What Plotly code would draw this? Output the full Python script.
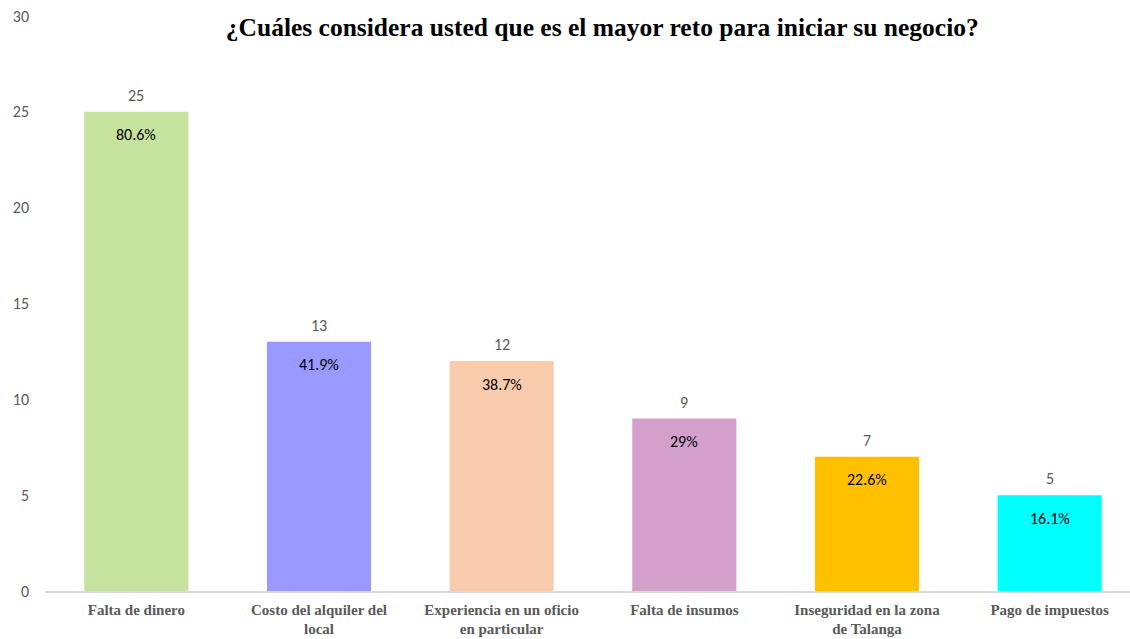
import plotly.graph_objects as go

categories = [
    "Falta de dinero",
    "Costo del alquiler del<br>local",
    "Experiencia en un oficio<br>en particular",
    "Falta de insumos",
    "Inseguridad en la zona<br>de Talanga",
    "Pago de impuestos",
]
counts = [25, 13, 12, 9, 7, 5]
percents = ["80.6%", "41.9%", "38.7%", "29%", "22.6%", "16.1%"]
bar_colors = ["#C5E29F", "#9999FF", "#F8CBAD", "#D39FCB", "#FFC000", "#00FFFF"]
y_ticks = [0, 5, 10, 15, 20, 25, 30]

SANS = "Carlito, Lato, Open Sans, sans-serif"
SERIF = "Liberation Serif, Times New Roman, serif"

fig = go.Figure()
fig.add_trace(go.Bar(
    x=categories,
    y=counts,
    marker=dict(color=bar_colors, line=dict(width=0)),
    hoverinfo="skip",
))

# count labels above bars, percentages just inside the top
for cat, n, pct in zip(categories, counts, percents):
    fig.add_annotation(x=cat, y=n, text=str(n), showarrow=False,
                       yanchor="bottom", yshift=5,
                       font=dict(family=SANS, size=16, color="#595959"))
    fig.add_annotation(x=cat, y=n, text=pct, showarrow=False,
                       yanchor="middle", yshift=-23,
                       font=dict(family=SANS, size=16, color="#000000"))

fig.update_layout(
    width=1130,
    height=639,
    paper_bgcolor="white",
    plot_bgcolor="white",
    showlegend=False,
    bargap=0.43,
    margin=dict(l=45, r=0, t=16, b=48),
    title=dict(
        text="¿Cuáles considera usted que es el mayor reto para iniciar su negocio?",
        x=0.533, xanchor="center", y=0.958, yanchor="middle",
        font=dict(family=SERIF, size=25.5, color="#000000", weight="bold"),
    ),
    xaxis=dict(
        range=[-0.5, 5.44],
        automargin=False,
        showgrid=False,
        showline=True,
        linecolor="#D9D9D9",
        linewidth=1.5,
        ticks="",
        ticklabelstandoff=4,
        tickfont=dict(family=SERIF, size=15, color="#595959", weight="bold"),
    ),
    yaxis=dict(
        range=[0, 30],
        automargin=False,
        tickvals=y_ticks,
        showgrid=False,
        zeroline=False,
        showline=False,
        ticks="",
        ticklabelstandoff=15,
        tickfont=dict(family=SANS, size=16, color="#595959"),
    ),
)

# drop the default 8px body margin so the figure fills the window
fig.write_html("out.html", config={"displayModeBar": False},
               post_script="document.body.style.margin='0';")
